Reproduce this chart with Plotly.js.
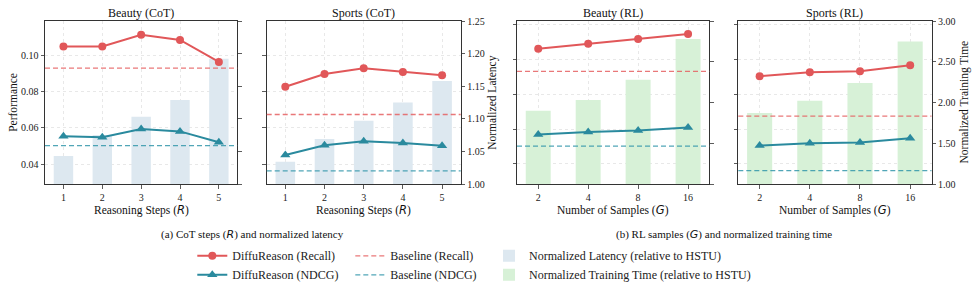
<!DOCTYPE html>
<html>
<head>
<meta charset="utf-8">
<script src="https://cdn.plot.ly/plotly-3.0.1.min.js"></script>
<style>html,body{margin:0;padding:0;background:#fff;}</style>
</head>
<body>
<div id="chart" style="width:977px;height:291px;"></div>
<script>
// ---------- data ----------
const cotSteps = [1, 2, 3, 4, 5];
const rlSamples = ['2', '4', '8', '16'];

const beautyCotRecall = [0.1052, 0.1052, 0.1118, 0.1089, 0.0967];
const beautyCotNdcg   = [0.0554, 0.0549, 0.0594, 0.0581, 0.0521];
const sportsCotRecall = [0.0829, 0.0900, 0.0932, 0.0911, 0.0893];
const sportsCotNdcg   = [0.0450, 0.0504, 0.0526, 0.0517, 0.0502];
const beautyLatency   = [1.043, 1.075, 1.103, 1.129, 1.192];
const sportsLatency   = [1.034, 1.069, 1.097, 1.125, 1.158];

const beautyRlRecall  = [0.1062, 0.1090, 0.1117, 0.1146];
const beautyRlNdcg    = [0.0569, 0.0583, 0.0592, 0.0609];
const sportsRlRecall  = [0.0904, 0.0927, 0.0933, 0.0967];
const sportsRlNdcg    = [0.0506, 0.0519, 0.0523, 0.0548];
const beautyTrainTime = [1.90, 2.03, 2.28, 2.78];
const sportsTrainTime = [1.87, 2.02, 2.24, 2.75];

// baselines: [Beauty, Sports]
const baselineRecall = [0.0932, 0.0675];
const baselineNdcg   = [0.0502, 0.0362];

const perfTicks = [0.04, 0.06, 0.08, 0.10];
const perfTicksRl = [0.04, 0.06, 0.08, 0.10, 0.12];
const latencyTicks = [1.00, 1.05, 1.10, 1.15, 1.20, 1.25];
const trainTicks = [1.00, 1.50, 2.00, 2.50, 3.00];

const panelTitles = ['Beauty (CoT)', 'Sports (CoT)', 'Beauty (RL)', 'Sports (RL)'];

// ---------- style ----------
const FONT = 'Liberation Serif, Times New Roman, serif';
const MATH = 'DejaVu Sans';
const RED = '#e15759';
const TEAL = '#2a8a9e';
const RED_B = 'rgba(229,96,98,0.85)';
const TEAL_B = 'rgba(50,150,170,0.85)';
const BLUE_BAR = '#dde8f0';
const GREEN_BAR = '#d7f1d7';
const GRID = '#e2e2e2';
const W = 977, H = 291;
const px = v => v / W;
const py = v => 1 - v / H;

const xDomains = [[45, 237.3], [266.7, 460.7], [517, 709.3], [738.3, 931.5]];
const yDom = [py(184), py(21)];
const AX = '#333';

function xAxis(i) {
  const cot = i < 2;
  const a = {
    domain: [px(xDomains[i][0]), px(xDomains[i][1])],
    anchor: i === 0 ? 'y' : 'y' + (i + 1),
    showgrid: true, griddash: 'dot', gridcolor: GRID, gridwidth: 0.8,
    showline: true, mirror: true, linecolor: AX, linewidth: 1,
    ticks: 'outside', ticklen: 3.5, tickwidth: 0.8, tickcolor: AX,
    tickfont: {family: FONT, size: 10, color: '#222'},
    zeroline: false, fixedrange: true
  };
  if (cot) { a.type = 'linear'; a.range = [0.525, 5.475]; a.tickvals = cotSteps; }
  else { a.type = 'category'; a.range = [-0.425, 3.425]; }
  return a;
}
function timeAxis(i) {
  const cot = i < 2;
  return {
    anchor: i === 0 ? 'x' : 'x' + (i + 1),
    domain: yDom, side: 'right',
    range: cot ? [1.0, 1.25] : [1.0, 3.0],
    tickvals: cot ? latencyTicks : trainTicks, tickformat: '.2f',
    showticklabels: i === 1 || i === 3,
    showgrid: false, zeroline: false,
    showline: true, linecolor: AX, linewidth: 1,
    ticks: 'outside', ticklen: 3.5, tickwidth: 0.8, tickcolor: AX,
    tickfont: {family: FONT, size: 10, color: '#222'}, fixedrange: true
  };
}
function perfAxis(i) {
  const cot = i < 2;
  return {
    overlaying: i === 0 ? 'y' : 'y' + (i + 1),
    anchor: i === 0 ? 'x' : 'x' + (i + 1),
    side: 'left',
    range: cot ? [0.0289, 0.1194] : [0.0285, 0.1221],
    tickvals: cot ? perfTicks : perfTicksRl, tickformat: '.2f',
    showticklabels: i === 0,
    showgrid: true, griddash: 'dot', gridcolor: GRID, gridwidth: 0.8,
    zeroline: false, showline: true, linecolor: AX, linewidth: 1,
    ticks: 'outside', ticklen: 3.5, tickwidth: 0.8, tickcolor: AX,
    tickfont: {family: FONT, size: 10, color: '#222'}, fixedrange: true
  };
}

const panels = [
  {x: cotSteps, recall: beautyCotRecall, ndcg: beautyCotNdcg, bars: beautyLatency, ds: 0, cot: true},
  {x: cotSteps, recall: sportsCotRecall, ndcg: sportsCotNdcg, bars: sportsLatency, ds: 1, cot: true},
  {x: rlSamples, recall: beautyRlRecall, ndcg: beautyRlNdcg, bars: beautyTrainTime, ds: 0, cot: false},
  {x: rlSamples, recall: sportsRlRecall, ndcg: sportsRlNdcg, bars: sportsTrainTime, ds: 1, cot: false}
];

const LEGFONT = {family: FONT, size: 12, color: '#222'};
const traces = [];
const shapes = [];
const layout = {
  width: W, height: H,
  margin: {l: 0, r: 0, t: 0, b: 0},
  paper_bgcolor: '#fff', plot_bgcolor: 'rgba(0,0,0,0)',
  font: {family: FONT, size: 10, color: '#222'},
  showlegend: true,
  annotations: [],
  shapes: shapes,
  legend:  {x: px(192.3), xanchor: 'left', y: py(265.3), yanchor: 'middle', orientation: 'v', bgcolor: 'rgba(0,0,0,0)', font: LEGFONT},
  legend2: {x: px(350.3), xanchor: 'left', y: py(265.3), yanchor: 'middle', orientation: 'v', bgcolor: 'rgba(0,0,0,0)', font: LEGFONT},
  legend3: {x: px(489), xanchor: 'left', y: py(265.3), yanchor: 'middle', orientation: 'v', bgcolor: 'rgba(0,0,0,0)', font: LEGFONT}
};

// base (time) axes hold the bars, overlaid performance axes hold the lines
panels.forEach((p, i) => {
  const xa = i === 0 ? 'x' : 'x' + (i + 1);
  const ya = i === 0 ? 'y' : 'y' + (i + 1);
  layout[i === 0 ? 'xaxis' : 'xaxis' + (i + 1)] = xAxis(i);
  layout[i === 0 ? 'yaxis' : 'yaxis' + (i + 1)] = timeAxis(i);
  layout['yaxis' + (i + 5)] = perfAxis(i);

  traces.push({
    type: 'bar', x: p.x, y: p.bars, xaxis: xa, yaxis: ya, width: 0.5,
    marker: {color: p.cot ? BLUE_BAR : GREEN_BAR, line: {width: 0}},
    name: p.cot ? 'Normalized Latency (relative to HSTU)' : 'Normalized Training Time (relative to HSTU)',
    legend: 'legend3', showlegend: i === 0 || i === 2, hoverinfo: 'x+y'
  });
});
panels.forEach((p, i) => {
  const xa = i === 0 ? 'x' : 'x' + (i + 1);
  const yp = 'y' + (i + 5);
  traces.push({
    type: 'scatter', mode: 'lines+markers', x: p.x, y: p.recall, xaxis: xa, yaxis: yp,
    line: {color: RED, width: 2}, marker: {symbol: 'circle', size: 8, color: RED},
    name: 'DiffuReason (Recall)', legend: 'legend', showlegend: i === 0, legendrank: 1
  });
});
panels.forEach((p, i) => {
  const xa = i === 0 ? 'x' : 'x' + (i + 1);
  const yp = 'y' + (i + 5);
  traces.push({
    type: 'scatter', mode: 'lines+markers', x: p.x, y: p.ndcg, xaxis: xa, yaxis: yp,
    line: {color: TEAL, width: 2}, marker: {symbol: 'triangle-up', size: 9, color: TEAL},
    name: 'DiffuReason (NDCG)', legend: 'legend', showlegend: i === 0, legendrank: 2
  });
  shapes.push({
    type: 'line', xref: xa + ' domain', x0: 0, x1: 1, yref: yp,
    y0: baselineRecall[p.ds], y1: baselineRecall[p.ds],
    line: {color: RED_B, width: 1.3, dash: '5px,3px'}
  });
  shapes.push({
    type: 'line', xref: xa + ' domain', x0: 0, x1: 1, yref: yp,
    y0: baselineNdcg[p.ds], y1: baselineNdcg[p.ds],
    line: {color: TEAL_B, width: 1.3, dash: '5px,3px'}
  });
});
// legend entries for the baselines (lines themselves are shapes spanning the panels)
traces.push({type: 'scatter', mode: 'lines', x: [null], y: [null], xaxis: 'x', yaxis: 'y5',
  line: {color: RED_B, width: 1.3, dash: '5px,3px'}, name: 'Baseline (Recall)', legend: 'legend2', hoverinfo: 'skip'});
traces.push({type: 'scatter', mode: 'lines', x: [null], y: [null], xaxis: 'x', yaxis: 'y5',
  line: {color: TEAL_B, width: 1.3, dash: '5px,3px'}, name: 'Baseline (NDCG)', legend: 'legend2', hoverinfo: 'skip'});

// ---------- text ----------
const ann = layout.annotations;
const it = s => '<span style="font-family:' + MATH + ';font-style:italic">' + s + '</span>';
xDomains.forEach((d, i) => {
  const cx = px((d[0] + d[1]) / 2);
  ann.push({text: panelTitles[i], x: cx, y: py(12.7), xref: 'paper', yref: 'paper', xanchor: 'center', yanchor: 'middle', showarrow: false, font: {family: FONT, size: 12, color: '#111'}});
  ann.push({text: i < 2 ? 'Reasoning Steps (' + it('R') + ')' : 'Number of Samples (' + it('G') + ')', x: cx, y: py(210), xref: 'paper', yref: 'paper', xanchor: 'center', yanchor: 'middle', showarrow: false, font: {family: FONT, size: 11.5, color: '#111'}});
});
ann.push({text: 'Performance', x: px(12.3), y: py(102.5), xref: 'paper', yref: 'paper', textangle: -90, xanchor: 'center', yanchor: 'middle', showarrow: false, font: {family: FONT, size: 11.5, color: '#111'}});
ann.push({text: 'Normalized Latency', x: px(492.3), y: py(102.5), xref: 'paper', yref: 'paper', textangle: -90, xanchor: 'center', yanchor: 'middle', showarrow: false, font: {family: FONT, size: 11.5, color: '#111'}});
ann.push({text: 'Normalized Training Time', x: px(964), y: py(102.5), xref: 'paper', yref: 'paper', textangle: -90, xanchor: 'center', yanchor: 'middle', showarrow: false, font: {family: FONT, size: 11.5, color: '#111'}});
ann.push({text: '(a) CoT steps (' + it('R') + ') and normalized latency', x: px(252.9), y: py(234.5), xref: 'paper', yref: 'paper', xanchor: 'center', yanchor: 'middle', showarrow: false, font: {family: FONT, size: 11, color: '#111'}});
ann.push({text: '(b) RL samples (' + it('G') + ') and normalized training time', x: px(724.3), y: py(234.5), xref: 'paper', yref: 'paper', xanchor: 'center', yanchor: 'middle', showarrow: false, font: {family: FONT, size: 11, color: '#111'}});

Plotly.newPlot('chart', traces, layout, {displayModeBar: false, staticPlot: true});
</script>
</body>
</html>
